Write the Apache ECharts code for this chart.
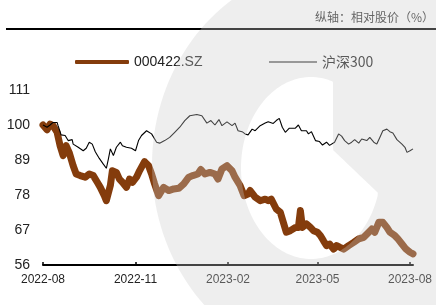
<!DOCTYPE html>
<html>
<head>
<meta charset="utf-8">
<script src="https://cdn.jsdelivr.net/npm/echarts@6/dist/echarts.min.js"></script>
<style>
  html, body { margin: 0; padding: 0; background: #fff; }
  #chart { width: 436px; height: 305px; }
</style>
</head>
<body>
<div id="chart"></div>
<script>
const stockName = "000422.SZ";
const indexName = "沪深300";
const axisNote = "纵轴：相对股价（%）";

const stockDates = [
  "2022-08-01", "2022-08-05", "2022-08-08", "2022-08-11", "2022-08-15", "2022-08-18", "2022-08-21", "2022-08-24", "2022-08-27", "2022-08-31",
  "2022-09-03", "2022-09-07", "2022-09-12", "2022-09-16", "2022-09-20", "2022-09-24", "2022-09-27", "2022-10-01", "2022-10-03", "2022-10-07",
  "2022-10-09", "2022-10-13", "2022-10-16", "2022-10-19", "2022-10-23", "2022-10-26", "2022-10-29", "2022-11-02", "2022-11-05", "2022-11-10",
  "2022-11-14", "2022-11-17", "2022-11-20", "2022-11-24", "2022-11-29", "2022-12-04", "2022-12-09", "2022-12-14", "2022-12-19", "2022-12-24",
  "2022-12-28", "2023-01-02", "2023-01-05", "2023-01-09", "2023-01-14", "2023-01-19", "2023-01-22", "2023-01-26", "2023-01-31", "2023-02-05",
  "2023-02-08", "2023-02-13", "2023-02-17", "2023-02-21", "2023-02-23", "2023-02-28", "2023-03-05", "2023-03-10", "2023-03-13", "2023-03-16",
  "2023-03-21", "2023-03-25", "2023-03-28", "2023-03-31", "2023-04-04", "2023-04-09", "2023-04-12", "2023-04-14", "2023-04-16", "2023-04-20",
  "2023-04-24", "2023-04-27", "2023-05-01", "2023-05-04", "2023-05-07", "2023-05-10", "2023-05-13", "2023-05-17", "2023-05-20", "2023-05-23",
  "2023-05-27", "2023-06-01", "2023-06-06", "2023-06-11", "2023-06-16", "2023-06-21", "2023-06-24", "2023-06-27", "2023-07-01", "2023-07-05",
  "2023-07-09", "2023-07-12", "2023-07-17", "2023-07-20", "2023-07-24", "2023-07-28", "2023-08-01", "2023-08-04"
];
const stockValues = [
  100, 98.5, 100.3, 99.8, 97.7, 93.5, 90.4, 93.5, 91.4, 87.2,
  84.6, 84.1, 83.6, 84.6, 84.1, 82.0, 80.4, 77.8, 76.2, 81.0,
  85.6, 85.1, 83.0, 82.0, 80.4, 83.0, 82.0, 83.6, 85.6, 88.5,
  87.2, 84.6, 81.5, 77.8, 80.4, 79.4, 79.9, 80.1, 81.5, 83.6,
  84.1, 84.6, 86.0, 84.6, 85.1, 84.6, 83.0, 86.2, 87.2, 85.6,
  83.6, 81.0, 77.8, 78.3, 79.4, 77.3, 76.2, 76.7, 76.2, 76.7,
  73.6, 72.6, 69.4, 66.3, 66.8, 67.8, 67.8, 73.1, 67.8, 68.9,
  67.8, 66.8, 66.3, 65.2, 63.6, 62.1, 62.6, 61.0, 62.1, 61.6,
  61.0, 62.1, 63.1, 64.2, 64.7, 66.3, 67.3, 66.3, 69.4, 69.4,
  67.8, 66.3, 65.2, 64.2, 62.6, 61.0, 60.0, 59.5
];

const indexDates = [
  "2022-08-01", "2022-08-05", "2022-08-08", "2022-08-11", "2022-08-15", "2022-08-16", "2022-08-19", "2022-08-23", "2022-08-26", "2022-08-30",
  "2022-08-31", "2022-09-05", "2022-09-10", "2022-09-13", "2022-09-16", "2022-09-19", "2022-09-22", "2022-09-26", "2022-09-30", "2022-10-03",
  "2022-10-05", "2022-10-07", "2022-10-10", "2022-10-13", "2022-10-17", "2022-10-19", "2022-10-23", "2022-10-28", "2022-11-01", "2022-11-04",
  "2022-11-07", "2022-11-12", "2022-11-17", "2022-11-22", "2022-11-25", "2022-11-30", "2022-12-05", "2022-12-10", "2022-12-15", "2022-12-20",
  "2022-12-25", "2023-01-01", "2023-01-06", "2023-01-11", "2023-01-15", "2023-01-19", "2023-01-23", "2023-01-26", "2023-01-31", "2023-02-05",
  "2023-02-08", "2023-02-11", "2023-02-15", "2023-02-18", "2023-02-21", "2023-02-25", "2023-02-28", "2023-03-05", "2023-03-10", "2023-03-13",
  "2023-03-18", "2023-03-21", "2023-03-24", "2023-03-27", "2023-03-30", "2023-04-03", "2023-04-09", "2023-04-12", "2023-04-15", "2023-04-20",
  "2023-04-22", "2023-04-25", "2023-04-29", "2023-05-03", "2023-05-06", "2023-05-10", "2023-05-13", "2023-05-18", "2023-05-22", "2023-05-25",
  "2023-05-28", "2023-06-01", "2023-06-04", "2023-06-07", "2023-06-11", "2023-06-14", "2023-06-19", "2023-06-22", "2023-06-26", "2023-06-29",
  "2023-07-02", "2023-07-05", "2023-07-09", "2023-07-12", "2023-07-15", "2023-07-19", "2023-07-24", "2023-07-27", "2023-07-29", "2023-08-01",
  "2023-08-04"
];
const indexValues = [
  100, 99.3, 100, 100.8, 100.8, 99.8, 96.9, 96.7, 95.1, 95.4,
  94.0, 93.0, 91.9, 92.7, 94.6, 94.0, 91.6, 89.5, 87.7, 86.4,
  89.3, 92.5, 90.4, 93.0, 94.6, 93.5, 93.0, 92.7, 91.9, 95.1,
  96.7, 98.2, 97.2, 94.6, 94.3, 95.1, 96.1, 97.7, 99.3, 101.4,
  102.9, 103.3, 102.9, 100.6, 101.4, 100.0, 101.7, 99.8, 101.0, 99.8,
  100.6, 98.2, 97.9, 97.2, 96.9, 98.7, 98.2, 99.8, 100.6, 101.0,
  100.5, 101.4, 102.1, 99.3, 97.7, 99.0, 99.0, 100.0, 98.2, 98.2,
  97.2, 97.9, 95.1, 94.8, 93.7, 94.6, 93.6, 94.6, 97.2, 96.5,
  95.1, 94.0, 94.6, 95.4, 94.3, 95.6, 95.1, 96.1, 94.6, 94.0,
  96.1, 98.2, 98.7, 97.9, 97.5, 95.4, 94.0, 93.0, 91.4, 91.9,
  92.5
];

const xTickLabels = ["2022-08", "2022-11", "2023-02", "2023-05", "2023-08"];
const yTicks = [56, 67, 78, 89, 100, 111];

// "yyyy-MM(-dd)" -> local timestamp
const toTime = (s) => {
  const p = s.split("-");
  return new Date(+p[0], +p[1] - 1, +(p[2] || 1)).getTime();
};

// grey logo watermark drawn over the chart (ring with an off-centre hole)
const watermarkPoints = () => {
  const pts = [];
  const n = 160;
  for (let i = 0; i <= n; i++) {
    const a = (i / n) * Math.PI * 2;
    pts.push([335 + 183 * Math.cos(a), 165 + 200 * Math.sin(a)]);
  }
  for (let i = 0; i <= n; i++) {
    const a = -(i / n) * Math.PI * 2;
    let x = 311 + 70 * Math.cos(a);
    const y = 168 + 91 * Math.sin(a);
    if (y < 150) x = Math.min(x, 333);
    else if (y < 196) x = Math.min(x, 333 + (y - 150) * 1.05);
    pts.push([x, y]);
  }
  return pts;
};

const myChart = echarts.init(document.getElementById("chart"));
const latin = "Liberation Sans, Arial, sans-serif";
const cjk = "Noto Sans CJK SC, sans-serif";
const tickTimes = xTickLabels.map((s) => toTime(s));

const option = {
  animation: false,
  backgroundColor: "#ffffff",
  title: {
    text: axisNote,
    right: 2,
    top: 11,
    padding: 0,
    textStyle: { fontSize: 12, fontWeight: "normal", color: "#333", fontFamily: cjk },
  },
  legend: [
    {
      data: [stockName],
      left: 75,
      top: 55,
      padding: 0,
      icon: "roundRect",
      itemWidth: 54,
      itemHeight: 4,
      textStyle: { fontSize: 14, color: "#222", fontFamily: latin },
    },
    {
      data: [indexName],
      left: 269,
      top: 55,
      padding: 0,
      icon: "rect",
      itemWidth: 48,
      itemHeight: 1,
      textStyle: { fontSize: 14, color: "#222", fontFamily: cjk },
    },
  ],
  grid: { left: 43, right: 23, top: 90, bottom: 40 },
  xAxis: {
    type: "value",
    min: toTime("2022-08-01"),
    max: toTime("2023-08-04"),
    axisLine: { lineStyle: { color: "#000", width: 2 } },
    axisTick: {
      show: true,
      inside: true,
      length: 3,
      lineStyle: { color: "#000", width: 1.5 },
      customValues: tickTimes,
    },
    axisLabel: {
      customValues: tickTimes,
      formatter: (v) => xTickLabels[tickTimes.indexOf(v)] || "",
      margin: 9,
      fontSize: 12,
      color: "#222",
      fontFamily: latin,
    },
    splitLine: { show: false },
  },
  yAxis: {
    type: "value",
    min: yTicks[0],
    max: yTicks[yTicks.length - 1],
    interval: yTicks[1] - yTicks[0],
    axisLine: { show: false },
    axisTick: { show: false },
    splitLine: { show: false },
    axisLabel: { margin: 13, fontSize: 14, color: "#222", fontFamily: latin },
  },
  series: [
    {
      name: stockName,
      type: "line",
      symbol: "none",
      color: "#843C0C",
      lineStyle: { width: 7, color: "#843C0C", join: "round", cap: "round" },
      data: stockDates.map((d, i) => [toTime(d), stockValues[i]]),
      z: 2,
    },
    {
      name: indexName,
      type: "line",
      symbol: "none",
      color: "#000",
      lineStyle: { width: 1.1, color: "#000" },
      data: indexDates.map((d, i) => [toTime(d), indexValues[i]]),
      z: 3,
    },
  ],
  graphic: [
    {
      type: "line",
      shape: { x1: 6, y1: 29, x2: 436, y2: 29 },
      style: { stroke: "#000", lineWidth: 2 },
      z: 10,
    },
    {
      type: "polygon",
      shape: { points: watermarkPoints() },
      style: { fill: "rgba(203,203,203,0.33)" },
      silent: true,
      z: 100,
    },
  ],
};

myChart.setOption(option);
</script>
</body>
</html>
